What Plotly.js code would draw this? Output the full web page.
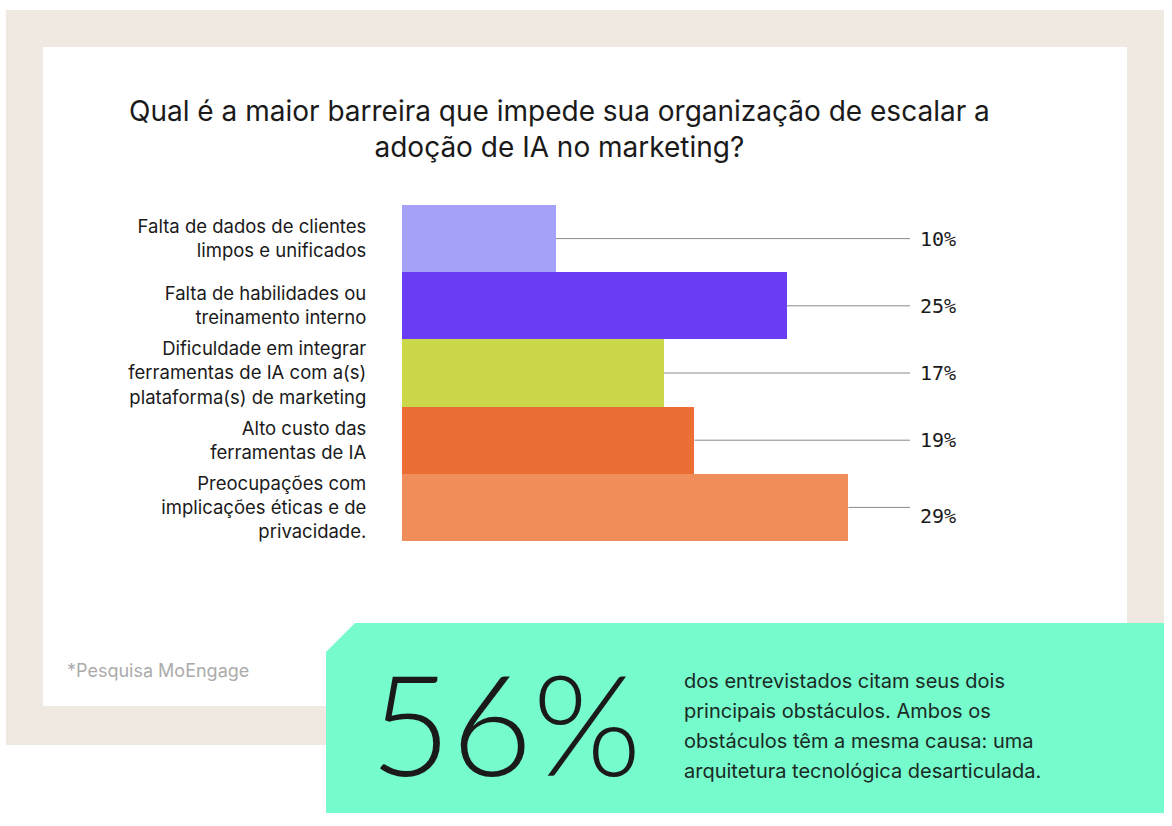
<!DOCTYPE html>
<html>
<head>
<meta charset="utf-8">
<script src="https://cdn.plot.ly/plotly-3.0.1.min.js"></script>
<style>html,body{margin:0;padding:0;background:#fff;}#chart{width:1172px;height:826px;}</style>
</head>
<body>
<div id="chart"></div>
<script>
const categories = [
  "Falta de dados de clientes<br>limpos e unificados",
  "Falta de habilidades ou<br>treinamento interno",
  "Dificuldade em integrar<br>ferramentas de IA com a(s)<br>plataforma(s) de marketing",
  "Alto custo das<br>ferramentas de IA",
  "Preocupações com<br>implicações éticas e de<br>privacidade."
];
const values = [10, 25, 17, 19, 29];
const valueLabels = ["10%", "25%", "17%", "19%", "29%"];
const barColors = ["#A5A1F9", "#6A3DF5", "#CBD84A", "#EB6E34", "#EF8E5B"];
const titleText = "Qual é a maior barreira que impede sua organização de escalar a<br>adoção de IA no marketing?";
const sourceText = "*Pesquisa MoEngage";
const bigStat = "56%";
const statLines = [
  "dos entrevistados citam seus dois",
  "principais obstáculos. Ambos os",
  "obstáculos têm a mesma causa: uma",
  "arquitetura tecnológica desarticulada."
];

const W = 1172, H = 826;
const px = x => x / W;
const py = y => 1 - y / H;
const XMAX = 33;
const FONT = "Inter, 'Noto Sans', sans-serif";

const shapes = [
  {type: "rect", xref: "paper", yref: "paper", x0: px(6), x1: px(1164), y0: py(745), y1: py(10), fillcolor: "#F0E9E2", line: {width: 0}, layer: "below"},
  {type: "rect", xref: "paper", yref: "paper", x0: px(43), x1: px(1127), y0: py(706), y1: py(47), fillcolor: "#FFFFFF", line: {width: 0}, layer: "below"},
  {type: "path", xref: "paper", yref: "paper", layer: "below", fillcolor: "#76FBCC", line: {width: 0},
   path: `M ${px(326)},${py(652)} L ${px(355)},${py(623)} L ${px(1164)},${py(623)} L ${px(1164)},${py(813)} L ${px(326)},${py(813)} Z`}
];
values.forEach((v, i) => {
  shapes.push({type: "line", xref: "x", yref: "y", x0: v, x1: XMAX, y0: i, y1: i, line: {color: "#8a8a8a", width: 1}, layer: "above"});
});

const annotations = [
  {xref: "paper", yref: "paper", x: px(559), y: py(92), text: titleText, showarrow: false, xanchor: "center", yanchor: "top", align: "center",
   font: {family: FONT, size: 28, color: "#1a1a1a"}},
  {xref: "paper", yref: "paper", x: px(65), y: py(670), text: sourceText, showarrow: false, xanchor: "left", yanchor: "middle",
   font: {family: FONT, size: 18, color: "#ababab"}},
  {xref: "paper", yref: "paper", x: px(368), y: py(722), text: bigStat, showarrow: false, xanchor: "left", yanchor: "middle",
   font: {family: "Lato, sans-serif", size: 140, color: "#1a1a1a", weight: 300}}
];
statLines.forEach((t, i) => {
  annotations.push({xref: "paper", yref: "paper", x: px(682), y: py(681 + i * 30), text: t, showarrow: false, xanchor: "left", yanchor: "middle",
    font: {family: FONT, size: 20, color: "#1a2a24"}});
});
valueLabels.forEach((t, i) => {
  annotations.push({xref: "x", yref: "y", x: XMAX, y: i, text: t, showarrow: false, xanchor: "left", yanchor: "middle", xshift: 8,
    yshift: i === valueLabels.length - 1 ? -9 : 0,
    font: {family: "'DejaVu Sans Mono', monospace", size: 20, color: "#1a1a1a"}});
});

const trace = {
  type: "bar", orientation: "h",
  x: values, y: categories,
  marker: {color: barColors, line: {width: 0}},
  hoverinfo: "none"
};

const layout = {
  width: W, height: H,
  margin: {l: 0, r: 0, t: 0, b: 0},
  paper_bgcolor: "#FFFFFF", plot_bgcolor: "rgba(0,0,0,0)",
  showlegend: false,
  bargap: 0,
  xaxis: {domain: [px(402), px(910)], range: [0, XMAX], visible: false, fixedrange: true},
  yaxis: {domain: [py(541), py(205)], autorange: "reversed", automargin: false, showgrid: false, zeroline: false, showline: false,
    ticks: "outside", ticklen: 31, tickcolor: "rgba(0,0,0,0)",
    tickfont: {family: FONT, size: 18.5, color: "#1a1a1a"}, fixedrange: true},
  shapes: shapes,
  annotations: annotations
};

Plotly.newPlot("chart", [trace], layout, {displayModeBar: false, staticPlot: true});
</script>
</body>
</html>
